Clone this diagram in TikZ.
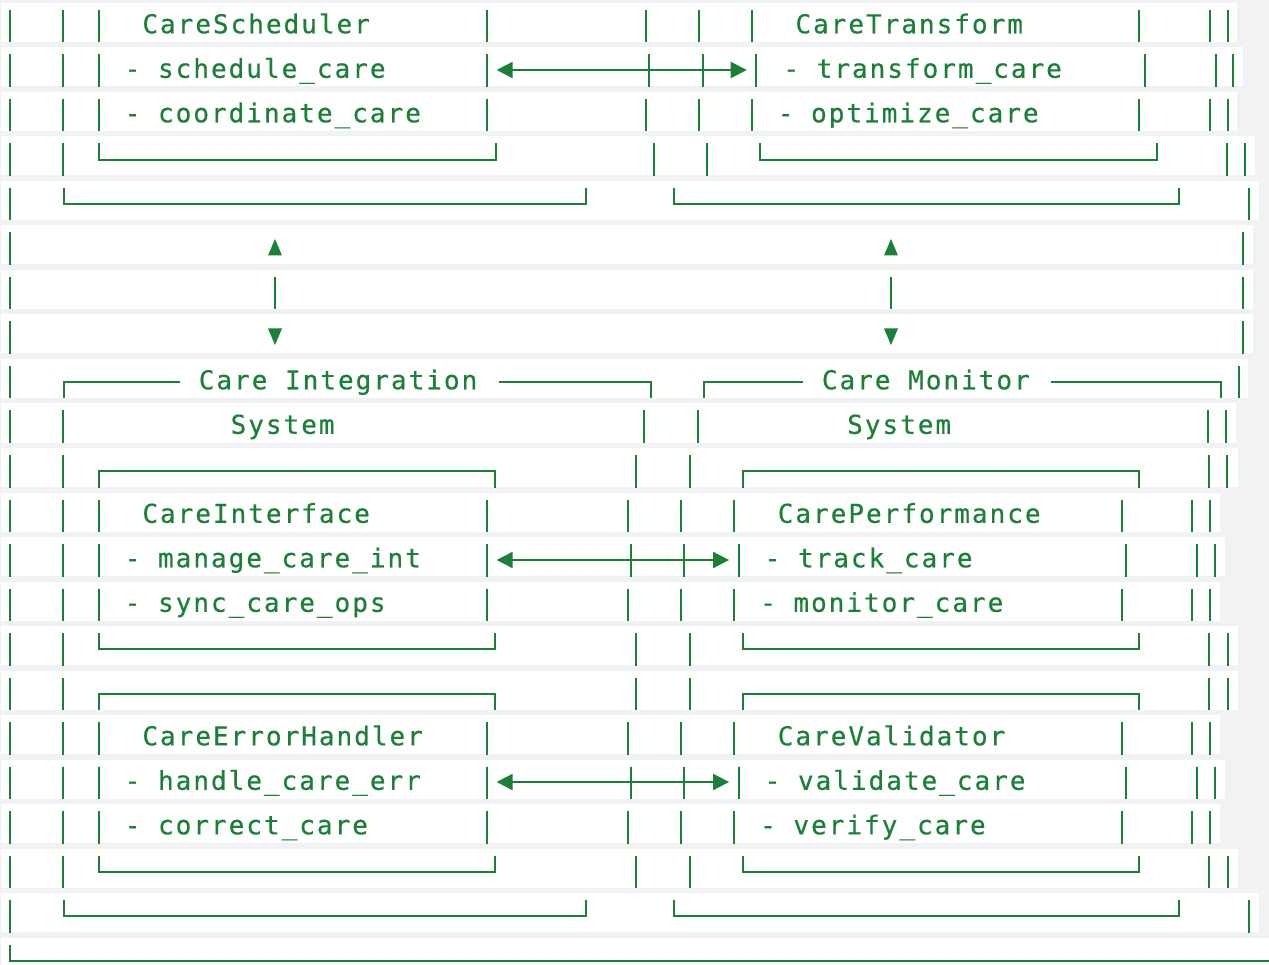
\documentclass[tikz,border=0pt]{standalone}
\usepackage{fontspec}
\newfontfamily\monofnt[LetterSpace=7.7,FakeBold=0.4]{DejaVu Sans Mono}
\definecolor{grn}{HTML}{1A7F37}
\definecolor{bgc}{HTML}{F1F2F4}
\tikzset{
  ln/.style={draw=grn, line width=2pt},
  txt/.style={anchor=base west, inner sep=0pt, text=grn, font=\monofnt\fontsize{26}{30}\selectfont},
  headfill/.style={fill=grn}
}
% band: top, right end
\newcommand\band[2]{\fill[white] (1,#1) rectangle (#2,#1+39);}
% vertical bar: x, row top
\newcommand\vb[2]{\pgfmathsetmacro\vbx{round(#1)}\draw[ln] (\vbx,#2+7) -- (\vbx,#2+39.5);}
% box bottom corners: xl, xr, row top
\newcommand\boxbot[3]{\pgfmathsetmacro\bxl{round(#1)}\pgfmathsetmacro\bxr{round(#2)}\pgfmathsetmacro\byy{round(#3+23)}%
  \draw[ln] (\bxl,#3+7) -- (\bxl,\byy) -- (\bxr,\byy) -- (\bxr,#3+7);}
% box top corners: xl, xr, row top
\newcommand\boxtop[3]{\pgfmathsetmacro\bxl{round(#1)}\pgfmathsetmacro\bxr{round(#2)}\pgfmathsetmacro\byy{round(#3+23)}%
  \draw[ln] (\bxl,#3+39.5) -- (\bxl,\byy) -- (\bxr,\byy) -- (\bxr,#3+39.5);}
% double arrow: xl tip, xr tip, row top, tick1, tick2, name
\newcommand\harr[6]{%
  \pgfmathsetmacro\ay{round(#3+22.5)}%
  \coordinate (#6l) at (#1,\ay);
  \coordinate (#6r) at (#2,\ay);
  \draw[ln] ([xshift=10pt]#6l) -- ([xshift=-10pt]#6r);
  \fill[headfill] (#6l) -- ++(16,-8.3) -- ++(0,16.6) -- cycle;
  \fill[headfill] (#6r) -- ++(-16,-8.3) -- ++(0,16.6) -- cycle;
  \vb{#4}{#3}\vb{#5}{#3}}
\begin{document}
\begin{tikzpicture}[x=1pt,y=-1pt]
\useasboundingbox (0,0) rectangle (1269,965);
\clip (0,0) rectangle (1269,965);
\fill[bgc] (0,0) rectangle (1269,965);
% row bands
\band{3}{1237}
\band{47.5}{1242.5}
\band{92}{1237}
\band{136.5}{1255}
\band{181}{1259}
\band{225.5}{1252.7}
\band{270}{1252.7}
\band{314.5}{1252.7}
\band{359}{1248}
\band{403.5}{1236}
\band{448}{1238}
\band{492.5}{1220}
\band{537}{1225}
\band{581.5}{1220}
\band{626}{1238}
\band{670.5}{1238}
\band{715}{1220}
\band{759.5}{1225}
\band{804}{1220}
\band{848.5}{1238}
\band{893}{1259}
\band{937.5}{1269}

% ---- row 0
\vb{10}{3}\vb{63}{3}\vb{98.5}{3}\vb{486.5}{3}\vb{645.5}{3}\vb{698.5}{3}\vb{751.5}{3}\vb{1139.4}{3}\vb{1210}{3}\vb{1227.7}{3}
\node[txt] (cs) at (142.2,33.3) {CareScheduler};
\node[txt] (ct) at (795.25,33.3) {CareTransform};
% ---- row 1
\vb{10}{47.5}\vb{63}{47.5}\vb{98.5}{47.5}\vb{486.5}{47.5}
\harr{496.7}{746.7}{47.5}{648.7}{702.7}{aone}
\vb{756}{47.5}\vb{1145}{47.5}\vb{1215.5}{47.5}\vb{1233.2}{47.5}
\node[txt] (cs1) at (124.55,77.8) {- schedule\_care};
\node[txt] (ct1) at (783.2,77.8) {- transform\_care};
% ---- row 2
\vb{10}{92}\vb{63}{92}\vb{98.5}{92}\vb{486.5}{92}\vb{645.5}{92}\vb{698.5}{92}\vb{751.5}{92}\vb{1139.4}{92}\vb{1210}{92}\vb{1227.7}{92}
\node[txt] (cs2) at (124.55,122.3) {- coordinate\_care};
\node[txt] (ct2) at (777.6,122.3) {- optimize\_care};
% ---- row 3
\vb{10}{136.5}\vb{63}{136.5}
\boxbot{98.5}{495.5}{136.5}
\vb{654}{136.5}\vb{707.3}{136.5}
\boxbot{760}{1156.7}{136.5}
\vb{1227}{136.5}\vb{1245.3}{136.5}
% ---- row 4
\vb{10}{181}
\boxbot{64}{586}{181}
\boxbot{673.5}{1179}{181}
\vb{1249}{181}
% ---- rows 5-7 vertical arrows
\vb{10}{225.5}\vb{1243.3}{225.5}
\vb{10}{270}\vb{1243.3}{270}
\vb{10}{314.5}\vb{1243.3}{314.5}
\coordinate (uL) at (275,239);
\coordinate (uR) at (891,239);
\coordinate (dL) at (275,345);
\coordinate (dR) at (891,345);
\fill[headfill] (uL) -- ++(7,16.5) -- ++(-14,0) -- cycle;
\fill[headfill] (uR) -- ++(7,16.5) -- ++(-14,0) -- cycle;
\fill[headfill] (dL) -- ++(7,-16.5) -- ++(-14,0) -- cycle;
\fill[headfill] (dR) -- ++(7,-16.5) -- ++(-14,0) -- cycle;
\coordinate (mLa) at (275,277);
\coordinate (mLb) at (275,309.5);
\coordinate (mRa) at (891,277);
\coordinate (mRb) at (891,309.5);
\draw[ln] (mLa) -- (mLb);
\draw[ln] (mRa) -- (mRb);
% ---- row 8
\vb{10}{359}
\draw[ln] (64,398.5) -- (64,382) -- (180,382);
\draw[ln] (499,382) -- (651,382) -- (651,398.5);
\draw[ln] (704,398.5) -- (704,382) -- (803,382);
\draw[ln] (1051,382) -- (1221,382) -- (1221,398.5);
\vb{1239}{359}
\node[txt] (ci) at (198.6,389.3) {Care Integration};
\node[txt] (cm) at (821.7,389.3) {Care Monitor};
% ---- row 9
\vb{10}{403.5}\vb{63}{403.5}\vb{644.3}{403.5}\vb{697.7}{403.5}\vb{1208.3}{403.5}\vb{1226.3}{403.5}
\node[txt] (ci2) at (230.45,433.8) {System};
\node[txt] (cm2) at (847,433.8) {System};
% ---- row 10
\vb{10}{448}\vb{63}{448}
\boxtop{99}{495.3}{448}
\vb{636.3}{448}\vb{689.7}{448}
\boxtop{742.7}{1139.3}{448}
\vb{1209.3}{448}\vb{1227.3}{448}
% ---- row 11
\vb{10}{492.5}\vb{63}{492.5}\vb{98.5}{492.5}\vb{486.5}{492.5}\vb{627.7}{492.5}\vb{681}{492.5}\vb{734.3}{492.5}\vb{1121.7}{492.5}\vb{1192.3}{492.5}\vb{1210.3}{492.5}
\node[txt] (cint) at (142.2,522.8) {CareInterface};
\node[txt] (cperf) at (777.6,522.8) {CarePerformance};
% ---- row 12
\vb{10}{537}\vb{63}{537}\vb{98.5}{537}\vb{486.5}{537}
\harr{496.7}{729}{537}{630.7}{684.3}{atwo}
\vb{738.7}{537}\vb{1126.3}{537}\vb{1197.3}{537}\vb{1215.3}{537}
\node[txt] (cint1) at (124.55,567.3) {- manage\_care\_int};
\node[txt] (cperf1) at (764.5,567.3) {- track\_care};
% ---- row 13
\vb{10}{581.5}\vb{63}{581.5}\vb{98.5}{581.5}\vb{486.5}{581.5}\vb{627.7}{581.5}\vb{681}{581.5}\vb{734.3}{581.5}\vb{1121.7}{581.5}\vb{1192.3}{581.5}\vb{1210.3}{581.5}
\node[txt] (cint2) at (124.55,611.8) {- sync\_care\_ops};
\node[txt] (cperf2) at (759.95,611.8) {- monitor\_care};
% ---- row 14
\vb{10}{626}\vb{63}{626}
\boxbot{99}{495.3}{626}
\vb{636.3}{626}\vb{689.7}{626}
\boxbot{742.7}{1139.3}{626}
\vb{1209.3}{626}\vb{1227.7}{626}
% ---- row 15
\vb{10}{670.5}\vb{63}{670.5}
\boxtop{99}{495.3}{670.5}
\vb{636.3}{670.5}\vb{689.7}{670.5}
\boxtop{742.7}{1139.3}{670.5}
\vb{1209.3}{670.5}\vb{1227.7}{670.5}
% ---- row 16
\vb{10}{715}\vb{63}{715}\vb{98.5}{715}\vb{486.5}{715}\vb{627.7}{715}\vb{681}{715}\vb{734.3}{715}\vb{1121.7}{715}\vb{1192.3}{715}\vb{1210.3}{715}
\node[txt] (ceh) at (142.2,745.3) {CareErrorHandler};
\node[txt] (cval) at (777.6,745.3) {CareValidator};
% ---- row 17
\vb{10}{759.5}\vb{63}{759.5}\vb{98.5}{759.5}\vb{486.5}{759.5}
\harr{496.7}{729}{759.5}{630.7}{684.3}{athree}
\vb{738.7}{759.5}\vb{1126.3}{759.5}\vb{1197.3}{759.5}\vb{1215.3}{759.5}
\node[txt] (ceh1) at (124.55,789.8) {- handle\_care\_err};
\node[txt] (cval1) at (764.5,789.8) {- validate\_care};
% ---- row 18
\vb{10}{804}\vb{63}{804}\vb{98.5}{804}\vb{486.5}{804}\vb{627.7}{804}\vb{681}{804}\vb{734.3}{804}\vb{1121.7}{804}\vb{1192.3}{804}\vb{1210.3}{804}
\node[txt] (ceh2) at (124.55,834.3) {- correct\_care};
\node[txt] (cval2) at (759.95,834.3) {- verify\_care};
% ---- row 19
\vb{10}{848.5}\vb{63}{848.5}
\boxbot{99}{495.3}{848.5}
\vb{636.3}{848.5}\vb{689.7}{848.5}
\boxbot{742.7}{1139.3}{848.5}
\vb{1209.3}{848.5}\vb{1227.7}{848.5}
% ---- row 20
\vb{10}{893}
\boxbot{64}{586}{893}
\boxbot{673.7}{1179}{893}
\vb{1249}{893}
% ---- row 21
\draw[ln] (10,944.5) -- (10,961) -- (1272,961);
\end{tikzpicture}
\end{document}
